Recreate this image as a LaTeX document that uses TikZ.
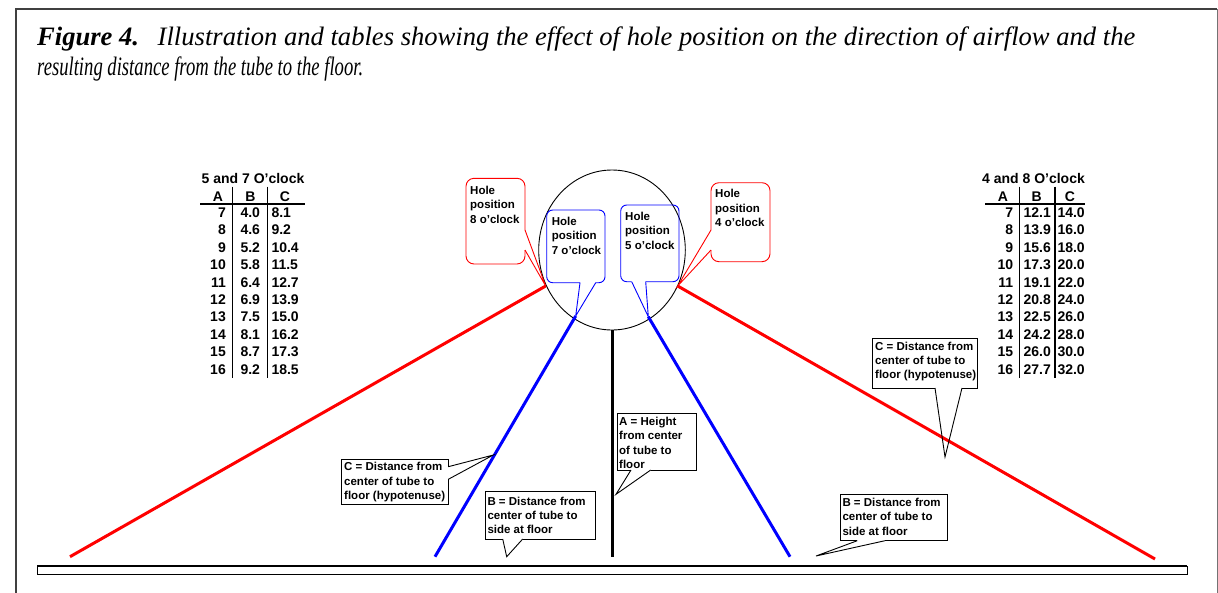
\documentclass[tikz,border=0pt]{standalone}
\usepackage{fontspec}
\setmainfont{Liberation Serif}
\setsansfont{Liberation Sans}
\usepackage{graphicx}
\usetikzlibrary{shapes.geometric}
\tikzset{
  ctext/.style={font=\sffamily\bfseries\fontsize{11.5}{14.4}\selectfont, align=left, inner sep=0pt, anchor=north west},
  tnum/.style={font=\sffamily\bfseries\fontsize{14}{16}\selectfont, inner sep=0pt},
  titletext/.style={font=\fontsize{26.6}{30}\selectfont\itshape, inner sep=0pt, anchor=base west},
  redray/.style={red, line width=3pt},
  blueray/.style={blue, line width=3pt},
  blackray/.style={black, line width=3pt},
  redbox/.style={red, line width=0.9pt, rounded corners=8pt},
  bluebox/.style={blue, line width=0.9pt, rounded corners=6pt},
  blkbox/.style={black, line width=0.9pt},
  tabline/.style={black, line width=1.2pt}
}
\begin{document}
\begin{tikzpicture}[x=1pt,y=-1pt]
\useasboundingbox (0,0) rectangle (1218,592);
% frame
\draw[black!75, line width=2pt] (15.7,593) -- (15.7,9) -- (1217.3,9);
\draw[black!55, line width=1.5pt] (1217.3,9) -- (1217.3,593);
% title
\node[titletext] (title1) at (37,45) {\resizebox{1098pt}{\height}{\textbf{Figure 4.}\hspace{0.7em}Illustration and tables showing the effect of hole position on the direction of airflow and the}};
\node[titletext] (title2) at (37,75) {\resizebox{326pt}{\height}{resulting distance from the tube to the floor.}};

% left table
\node[tnum, anchor=base] (lt) at (253,183) {5 and 7 O'clock};
\node[tnum, anchor=base] (lA) at (218,201.7) {A};
\node[tnum, anchor=base] (lB) at (250.5,201.7) {B};
\node[tnum, anchor=base] (lC) at (285,201.7) {C};
\draw[tabline] (200,204) -- (305,204);
\draw[tabline] (232.7,186.7) -- (232.7,378);
\draw[tabline] (267.3,186.7) -- (267.3,378);
\foreach \a/\b/\c [count=\i from 0] in {7/4.0/8.1,8/4.6/9.2,9/5.2/10.4,10/5.8/11.5,11/6.4/12.7,12/6.9/13.9,13/7.5/15.0,14/8.1/16.2,15/8.7/17.3,16/9.2/18.5}{
  \node[tnum, anchor=base east] (la\i) at (226,217.3+17.44*\i) {\a};
  \node[tnum, anchor=base] (lb\i) at (250.3,217.3+17.44*\i) {\b};
  \node[tnum, anchor=base west] (lc\i) at (271.3,217.3+17.44*\i) {\c};
}

% right table
\node[tnum, anchor=base] (rt) at (1033.5,183) {4 and 8 O'clock};
\node[tnum, anchor=base] (rA) at (1003,201.7) {A};
\node[tnum, anchor=base] (rB) at (1036.7,201.7) {B};
\node[tnum, anchor=base] (rC) at (1070,201.7) {C};
\draw[tabline] (985,204) -- (1085,204);
\draw[tabline] (1019.3,186.7) -- (1019.3,378);
\draw[tabline] (1055,186.7) -- (1055,378);
\foreach \a/\b/\c [count=\i from 0] in {7/12.1/14.0,8/13.9/16.0,9/15.6/18.0,10/17.3/20.0,11/19.1/22.0,12/20.8/24.0,13/22.5/26.0,14/24.2/28.0,15/26.0/30.0,16/27.7/32.0}{
  \node[tnum, anchor=base east] (ra\i) at (1013.3,217.3+17.44*\i) {\a};
  \node[tnum, anchor=base east] (rb\i) at (1051,217.3+17.44*\i) {\b};
  \node[tnum, anchor=base west] (rc\i) at (1057.3,217.3+17.44*\i) {\c};
}

% tube
\node[draw, ellipse, line width=0.9pt, minimum width=146.6pt, minimum height=160pt, inner sep=0pt] (tube) at (612,250) {};

% rays
\coordinate (rl0) at (545.7,286); \coordinate (rl1) at (70,556.7);
\coordinate (rr0) at (677.7,286); \coordinate (rr1) at (1155,559);
\coordinate (bl0) at (575.7,316); \coordinate (bl1) at (435,556.7);
\coordinate (br0) at (648.3,316.7); \coordinate (br1) at (790,556.7);
\coordinate (a1) at (612,556.7);
\draw[redray] (rl0) -- (rl1);
\draw[redray] (rr0) -- (rr1);
\draw[blueray] (bl0) -- (bl1);
\draw[blueray] (br0) -- (br1);
\draw[blackray] (tube.south) -- (a1);

% floor
\draw[black, line width=1pt] (37.3,566) rectangle (1187.3,574);
\draw[black, line width=2.5pt] (37.3,566) -- (1187.3,566);

% hole position callouts
\node[ctext] (h8) at (470,186) {Hole\\position\\8 o'clock};
\draw[redbox] (525,250) -- (525,264) -- (466,264) -- (466,178.3) -- (525,178.3) -- (525,230);
\draw[red, line width=0.9pt] (525,230) -- (rl0) -- (525,250);

\node[ctext] (h4) at (715,189.3) {Hole\\position\\4 o'clock};
\draw[redbox] (711,230) -- (711,182.7) -- (770,182.7) -- (770,261.7) -- (711,261.7) -- (711,250);
\draw[red, line width=0.9pt] (711,230) -- (rr0) -- (711,250);

\node[ctext] (h7) at (551.7,216.7) {Hole\\position\\7 o'clock};
\draw[bluebox] (580,282.7) -- (546.7,282.7) -- (546.7,210) -- (605,210) -- (605,282.7) -- (595.7,282.7);
\draw[blue, line width=0.9pt] (580,282.7) -- (bl0) -- (595.7,282.7);

\node[ctext] (h5) at (625,211.7) {Hole\\position\\5 o'clock};
\draw[bluebox] (631.7,281.7) -- (620.7,281.7) -- (620.7,205) -- (679,205) -- (679,281.7) -- (645.7,281.7);
\draw[blue, line width=0.9pt] (631.7,281.7) -- (br0) -- (645.7,281.7);

% label callouts
\coordinate (tcl) at (493.3,455);
\node[ctext] (cl) at (344,462.3) {C = Distance from\\center of tube to\\floor (hypotenuse)};
\draw[blkbox] (448.3,466.7) -- (448.3,459.3) -- (341.7,459.3) -- (341.7,504) -- (448.3,504) -- (448.3,479.3);
\draw[blkbox] (448.3,466.7) -- (tcl) -- (448.3,479.3);

\coordinate (tbl) at (506.7,556.7);
\node[ctext] (bl) at (487.3,496.5) {B = Distance from\\center of tube to\\side at floor};
\draw[blkbox] (502.7,539) -- (485,539) -- (485,491.7) -- (595,491.7) -- (595,539) -- (522.7,539);
\draw[blkbox] (502.7,539) -- (tbl) -- (522.7,539);

\coordinate (ta) at (616,494.3);
\node[ctext] (al) at (619,416.7) {A = Height\\from center\\of tube to\\floor};
\draw[blkbox] (631,470) -- (617.3,470) -- (617.3,413.3) -- (696,413.3) -- (696,470) -- (650.7,470);
\draw[blkbox] (631,470) -- (ta) -- (650.7,470);

\coordinate (tbr) at (816,556);
\node[ctext] (br) at (842.3,497.7) {B = Distance from\\center of tube to\\side at floor};
\draw[blkbox] (857.3,540.7) -- (840,540.7) -- (840,494) -- (947.7,494) -- (947.7,540.7) -- (885,540.7);
\draw[blkbox] (857.3,540.7) -- (tbr) -- (885,540.7);

\coordinate (tcr) at (945,457);
\node[ctext] (cr) at (875,341.5) {C = Distance from\\center of tube to\\floor (hypotenuse)};
\draw[blkbox] (935,388) -- (872,388) -- (872,338) -- (977,338) -- (977,388) -- (962,388);
\draw[blkbox] (935,388) -- (tcr) -- (962,388);
\end{tikzpicture}
\end{document}
